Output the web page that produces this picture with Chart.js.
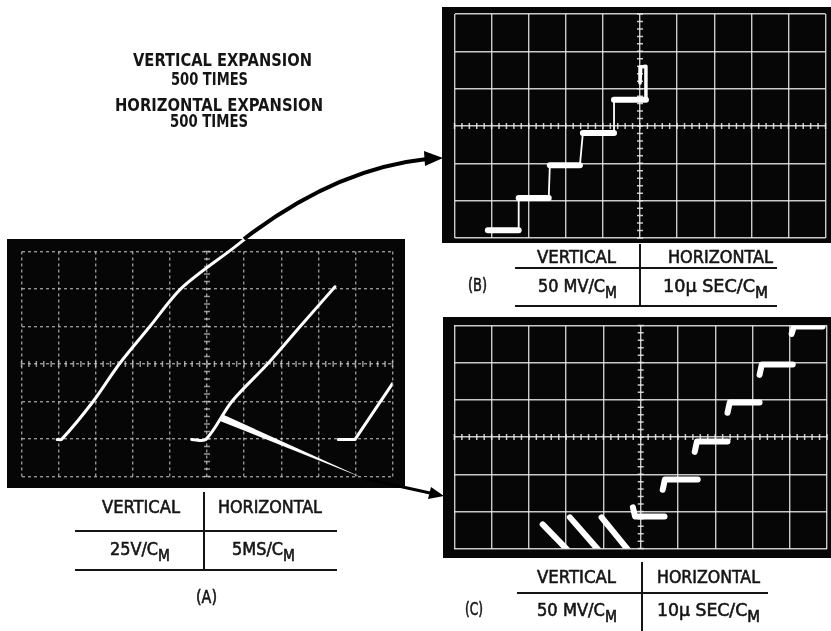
<!DOCTYPE html>
<html>
<head>
<title>Scope traces</title>
<script src="https://cdn.jsdelivr.net/npm/chart.js"></script>
<style>
  html, body { margin: 0; padding: 0; background: #fff; }
  #page { position: relative; width: 831px; height: 631px; overflow: hidden; }
  canvas.scope { position: absolute; background: #060606; }
  #panelA { left: 7px; top: 239px; }
  #panelB { left: 442px; top: 7px; }
  #panelC { left: 443px; top: 317px; }
  svg { position: absolute; left: 0; top: 0; }
  svg text { font-family: "DejaVu Sans Condensed", "DejaVu Sans", sans-serif; fill: #151515; }
  .hd { font-size: 18px; font-weight: bold; }
  .tb { font-size: 17.5px; stroke: #151515; stroke-width: 0.55; }
</style>
</head>
<body>
<div id="page">
  <canvas id="panelA" class="scope" width="398" height="249"></canvas>
  <canvas id="panelB" class="scope" width="389" height="236"></canvas>
  <canvas id="panelC" class="scope" width="388" height="241"></canvas>

  <svg width="831" height="631">
    <!-- heading -->
    <text class="hd" x="133" y="66" textLength="179" lengthAdjust="spacingAndGlyphs">VERTICAL EXPANSION</text>
    <text class="hd" x="171" y="85" textLength="77" lengthAdjust="spacingAndGlyphs">500 TIMES</text>
    <text class="hd" x="115" y="111" textLength="208" lengthAdjust="spacingAndGlyphs">HORIZONTAL EXPANSION</text>
    <text class="hd" x="170" y="127" textLength="78" lengthAdjust="spacingAndGlyphs">500 TIMES</text>

    <!-- table A -->
    <line x1="204" y1="492" x2="204" y2="570" stroke="#151515" stroke-width="2"/>
    <line x1="75" y1="531" x2="337" y2="531" stroke="#151515" stroke-width="2"/>
    <line x1="75" y1="570" x2="337" y2="570" stroke="#151515" stroke-width="2"/>
    <text class="tb" x="102" y="513" textLength="78" lengthAdjust="spacingAndGlyphs">VERTICAL</text>
    <text class="tb" x="218" y="513" textLength="104" lengthAdjust="spacingAndGlyphs">HORIZONTAL</text>
    <text class="tb" x="110" y="555" textLength="60" lengthAdjust="spacingAndGlyphs">25V/C<tspan dy="6" font-size="15">M</tspan></text>
    <text class="tb" x="232" y="555" textLength="63" lengthAdjust="spacingAndGlyphs">5MS/C<tspan dy="6" font-size="15">M</tspan></text>
    <text class="tb" x="196" y="603" textLength="21" lengthAdjust="spacingAndGlyphs">(A)</text>

    <!-- table B -->
    <line x1="640" y1="244" x2="640" y2="306" stroke="#151515" stroke-width="2"/>
    <line x1="515" y1="268" x2="777" y2="268" stroke="#151515" stroke-width="2"/>
    <line x1="515" y1="306" x2="777" y2="306" stroke="#151515" stroke-width="2"/>
    <text class="tb" x="537" y="263" textLength="79" lengthAdjust="spacingAndGlyphs">VERTICAL</text>
    <text class="tb" x="668" y="263" textLength="105" lengthAdjust="spacingAndGlyphs">HORIZONTAL</text>
    <text class="tb" x="468" y="291" textLength="19" lengthAdjust="spacingAndGlyphs">(B)</text>
    <text class="tb" x="538" y="292" textLength="79" lengthAdjust="spacingAndGlyphs">50 MV/C<tspan dy="6" font-size="15">M</tspan></text>
    <text class="tb" x="663" y="292" textLength="105" lengthAdjust="spacingAndGlyphs">10μ SEC/C<tspan dy="6" font-size="15">M</tspan></text>

    <!-- table C -->
    <line x1="642" y1="562" x2="642" y2="631" stroke="#151515" stroke-width="2"/>
    <line x1="517" y1="593" x2="768" y2="593" stroke="#151515" stroke-width="2"/>
    <text class="tb" x="537" y="583" textLength="79" lengthAdjust="spacingAndGlyphs">VERTICAL</text>
    <text class="tb" x="657" y="583" textLength="103" lengthAdjust="spacingAndGlyphs">HORIZONTAL</text>
    <text class="tb" x="465" y="615" textLength="18" lengthAdjust="spacingAndGlyphs">(C)</text>
    <text class="tb" x="537" y="616" textLength="80" lengthAdjust="spacingAndGlyphs">50 MV/C<tspan dy="6" font-size="15">M</tspan></text>
    <text class="tb" x="657" y="616" textLength="103" lengthAdjust="spacingAndGlyphs">10μ SEC/C<tspan dy="6" font-size="15">M</tspan></text>

    <!-- arrow to B -->
    <path d="M 244 239 C 300 196 360 166 427 159" fill="none" stroke="#000" stroke-width="4"/>
    <polygon points="443,158 424,151 425,166" fill="#000"/>
    <!-- arrow to C -->
    <polygon points="220.6,421.2 223.4,414.8 363,478" fill="#fff"/>
    <line x1="362" y1="478" x2="430" y2="493" stroke="#000" stroke-width="3"/>
    <polygon points="444,496 428,499 431,487" fill="#000"/>
  </svg>
</div>

<script>
  // all trace values in screen divisions (x: -5..5, y: -3..3)

  // (A) 25 V/cm, 5 ms/cm
  const aTrace1X = [-4.04, -3.92, -3.07, -2.35, -1.54, -0.68, 0.71, 1.02];
  const aTrace1Y = [-2.01, -2.01, -1.0, 0.02, 1.0, 2.03, 3.09, 3.33];
  const aTrace2X = [-0.41, -0.03, 0.67, 1.65, 2.51, 3.45];
  const aTrace2Y = [-2.01, -2.01, -1.0, 0.02, 1.0, 2.06];
  const aTrace3X = [3.54, 3.99, 5.0];
  const aTrace3Y = [-2.01, -2.01, -0.52];

  // (B) staircase
  const bStepX0 = [-4.1, -3.27, -2.43, -1.54, -0.7];
  const bStepX1 = [-3.27, -2.46, -1.62, -0.7, 0.16];
  const bStepY = [-2.79, -1.93, -1.05, -0.19, 0.70];
  const bSpikeX = [0.16, 0.16, 0.02, 0.0];
  const bSpikeY = [0.70, 1.60, 1.58, 1.15];

  // (C) staircase
  const cStepX0 = [-0.21, 0.59, 1.45, 2.33, 3.19, 4.05];
  const cStepX1 = [0.64, 1.53, 2.33, 3.19, 4.08, 4.88];
  const cStepY = [-2.14, -1.14, -0.12, 0.93, 1.95, 2.97];
  const cHook = [0.25, -0.28, -0.28, -0.28, -0.28, -0.2];
  const cDiagX0 = [-2.63, -1.90, -1.05];
  const cDiagY0 = [-2.35, -2.16, -2.16];
  const cDiagX1 = [-1.98, -1.15, -0.35];
  const cDiagY1 = [-3.02, -3.02, -3.02];

  function pts(xs, ys) {
    return xs.map((v, i) => ({ x: v, y: ys[i] }));
  }

  function trace(data, width, extra) {
    return Object.assign({
      data, showLine: true, borderColor: '#fff', backgroundColor: '#fff',
      borderWidth: width, pointRadius: 0, borderCapStyle: 'round', borderJoinStyle: 'round'
    }, extra || {});
  }

  // small graticule marks on the centre lines, 5 per division
  const minorTicks = {
    id: 'minorTicks',
    beforeDatasetsDraw(chart) {
      const { ctx, scales: { x, y } } = chart;
      const x0 = x.getPixelForValue(0), y0 = y.getPixelForValue(0);
      ctx.save();
      ctx.strokeStyle = chart.options.scales.x.grid.color;
      ctx.lineWidth = 1.5;
      ctx.beginPath();
      for (let v = -5; v <= 5.001; v += 0.2) {
        const px = x.getPixelForValue(v);
        ctx.moveTo(px, y0 - 3); ctx.lineTo(px, y0 + 3);
      }
      for (let v = -3; v <= 3.001; v += 0.2) {
        const py = y.getPixelForValue(v);
        ctx.moveTo(x0 - 3, py); ctx.lineTo(x0 + 3, py);
      }
      ctx.stroke();
      ctx.restore();
    }
  };

  function scope(id, pad, gridColor, dash, datasets) {
    const axis = (min, max, horiz) => ({
      type: 'linear', min, max,
      ticks: { display: false, stepSize: 1 },
      grid: { color: gridColor, lineWidth: 1.4, drawTicks: false },
      border: { display: false, dash },
      afterFit: s => { if (horiz) s.height = 0; else s.width = 0; }
    });
    return new Chart(document.getElementById(id), {
      type: 'scatter',
      data: { datasets },
      options: {
        responsive: false, animation: false, events: [],
        layout: { padding: pad },
        plugins: { legend: { display: false }, tooltip: { enabled: false } },
        scales: { x: axis(-5, 5, true), y: axis(-3, 3, false) }
      },
      plugins: [minorTicks]
    });
  }

  // (A)
  scope('panelA', { left: 14.5, right: 12.5, top: 12.5, bottom: 11.5 }, 'rgba(225,225,225,0.65)', [3, 3], [
    trace(pts(aTrace1X, aTrace1Y), 3, { clip: false, tension: 0.3 }),
    trace(pts(aTrace2X, aTrace2Y), 3, { tension: 0.3 }),
    trace(pts(aTrace3X, aTrace3Y), 3)
  ]);

  // (B)
  const bStairX = [], bStairY = [];
  bStepX0.forEach((x0, i) => { bStairX.push(x0, bStepX1[i]); bStairY.push(bStepY[i], bStepY[i]); });
  const bSets = [trace(pts(bStairX, bStairY), 1.8)];
  bStepX0.forEach((x0, i) => bSets.push(trace(pts([x0, bStepX1[i]], [bStepY[i], bStepY[i]]), 6)));
  bSets.push(trace(pts(bSpikeX, bSpikeY), 3.5));
  scope('panelB', { left: 12.5, right: 5.5, top: 7, bottom: 5 }, 'rgba(235,235,235,0.85)', [], bSets);

  // (C)
  const cSets = [];
  cStepX0.forEach((x0, i) => cSets.push(trace(pts(
    [x0, x0 + 0.06, cStepX1[i]],
    [cStepY[i] + cHook[i], cStepY[i], cStepY[i]]), 6)));
  cDiagX0.forEach((x0, i) => cSets.push(trace(pts([x0, cDiagX1[i]], [cDiagY0[i], cDiagY1[i]]), 6)));
  scope('panelC', { left: 11.4, right: 4, top: 8.4, bottom: 9.4 }, 'rgba(235,235,235,0.85)', [], cSets);
</script>
</body>
</html>
